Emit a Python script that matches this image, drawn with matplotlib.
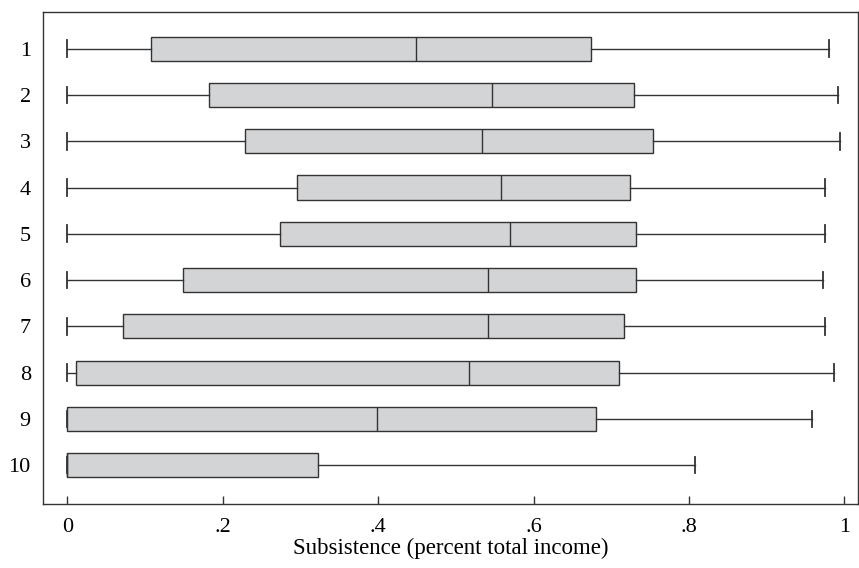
import matplotlib
matplotlib.use("Agg")
import matplotlib.pyplot as plt

# Box summaries for each decile group (share of total income spent on subsistence)
groups = ["1", "2", "3", "4", "5", "6", "7", "8", "9", "10"]
whisker_low = [0.0, 0.0, 0.0, 0.0, 0.0, 0.0, 0.0, 0.0, 0.0, 0.0]
q1 = [0.107, 0.182, 0.229, 0.295, 0.273, 0.149, 0.072, 0.011, 0.0, 0.0]
median = [0.448, 0.547, 0.533, 0.558, 0.569, 0.541, 0.541, 0.517, 0.398, 0.0]
q3 = [0.674, 0.729, 0.754, 0.724, 0.732, 0.732, 0.716, 0.710, 0.680, 0.323]
whisker_high = [0.980, 0.991, 0.994, 0.975, 0.975, 0.972, 0.975, 0.986, 0.958, 0.807]

xticks = [0, 0.2, 0.4, 0.6, 0.8, 1.0]
xtick_labels = ["0", ".2", ".4", ".6", ".8", "1"]

plt.rcParams["font.family"] = ["Liberation Serif", "DejaVu Serif"]

fig = plt.figure(figsize=(8.59, 5.68), dpi=100)
ax = fig.add_axes([0.0504, 0.1127, 0.9490, 0.8667])

stats = []
for i in range(len(groups)):
    stats.append(dict(label=groups[i], whislo=whisker_low[i], q1=q1[i],
                      med=median[i], q3=q3[i], whishi=whisker_high[i],
                      fliers=[]))

edge = "#333333"
positions = list(range(1, len(groups) + 1))
ax.bxp(stats, positions=positions, orientation="horizontal", widths=0.52,
       capwidths=0.36, patch_artist=True, showfliers=False,
       boxprops=dict(facecolor="#d3d4d6", edgecolor=edge, linewidth=1.0),
       medianprops=dict(color=edge, linewidth=1.0),
       whiskerprops=dict(color=edge, linewidth=1.0),
       capprops=dict(color=edge, linewidth=1.3))

ax.set_xlim(-0.031, 1.018)
ax.set_ylim(10.84, 0.2)

ax.set_xticks(xticks)
ax.set_xticklabels(xtick_labels)
ax.set_yticks(positions)
ax.set_yticklabels(groups)

ax.tick_params(axis="x", direction="in", length=5.8, width=1.0, color=edge,
               labelsize=16, pad=10)
ax.tick_params(axis="y", length=0, labelsize=16, pad=9)

for s in ax.spines.values():
    s.set_color(edge)
    s.set_linewidth(1.0)

ax.set_xlabel("Subsistence (percent total income)", fontsize=16.5, labelpad=1)

fig.savefig("out.png", dpi=100)
